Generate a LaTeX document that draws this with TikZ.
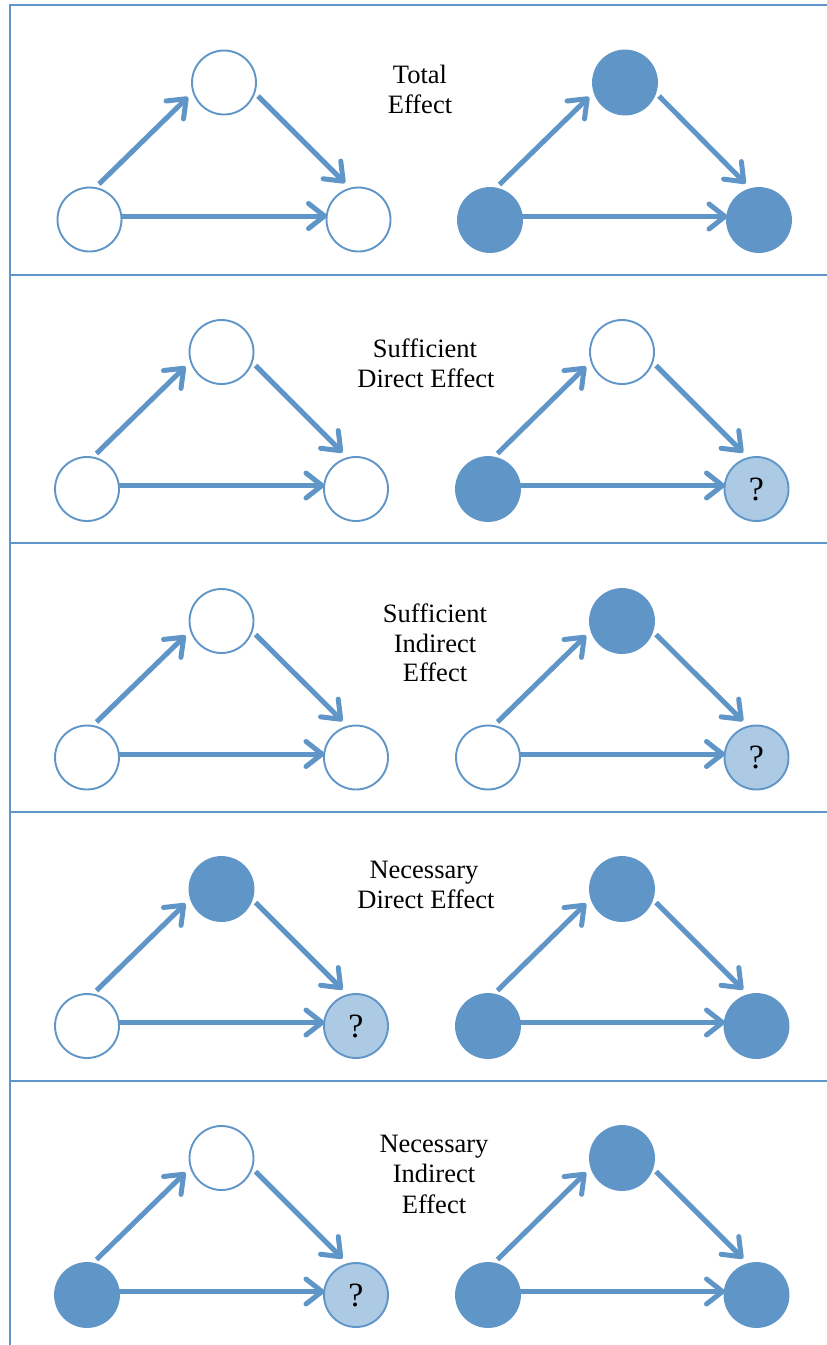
\documentclass[tikz,border=0pt]{standalone}
\usepackage{fontspec}
\setmainfont{Liberation Serif}
\usetikzlibrary{arrows.meta}
\definecolor{mblue}{RGB}{96,149,200}
\definecolor{lblue}{RGB}{173,202,229}
\newcommand{\triad}[8]{%
  \node[#5] (#1bl) at #2 {};
  \node[#6] (#1t) at #3 {};
  \node[#7] (#1br) at #4 {#8};
  \draw[arr] ([shift={(9.5,-35.5)}]#1bl.center) -- ([shift={(-36,14.5)}]#1t.center);
  \draw[arr] ([shift={(34,13.5)}]#1t.center) -- ([shift={(-13.5,-36.5)}]#1br.center);
  \draw[arr] ([shift={(32,-3.5)}]#1bl.center) -- ([shift={(-31.5,-3.5)}]#1br.center);
}
\begin{document}
\begin{tikzpicture}[x=1pt,y=-1pt,
  basec/.style={circle, line width=1.9pt, draw=mblue, minimum size=64pt, inner sep=0pt},
  emptyc/.style={basec, fill=white},
  fullc/.style={basec, fill=mblue},
  qc/.style={basec, fill=lblue, font=\fontsize{34}{34}\selectfont},
  arr/.style={draw=mblue, line width=5pt, -{Straight Barb[length=16pt,width=25pt,round]}},
  frame/.style={draw=mblue, line width=2pt},
  lbl/.style={font=\fontsize{26.5}{30}\selectfont, anchor=base, inner sep=0pt}]
\useasboundingbox (0,0) rectangle (827,1345);
% frame
\coordinate (ftl) at (10,5);
\coordinate (ftr) at (827,5);
\coordinate (fbl) at (10,1345);
\draw[frame] (ftr) -- (ftl) -- (fbl);
\foreach \yy/\nm in {274.5/d1, 543/d2, 812/d3, 1081/d4} {
  \coordinate (\nm l) at (10,\yy);
  \coordinate (\nm r) at (827,\yy);
  \draw[frame] (\nm l) -- (\nm r);
}
% panel 1: Total Effect
\triad{aL}{(89.5,219.5)}{(224,82.5)}{(358.5,219.5)}{emptyc}{emptyc}{emptyc}{}
\triad{aR}{(490,220)}{(625,82.5)}{(759,220)}{fullc}{fullc}{fullc}{}
\node[lbl] (la1) at (420,83) {Total};
\node[lbl] (la2) at (420,113) {Effect};
% panel 2: Sufficient Direct Effect
\triad{bL}{(87,489)}{(221.5,352)}{(356,489)}{emptyc}{emptyc}{emptyc}{}
\triad{bR}{(488,489)}{(622,352)}{(756.5,489)}{fullc}{emptyc}{qc}{?}
\node[lbl] (lb1) at (425,357) {Sufficient};
\node[lbl] (lb2) at (426,387) {Direct Effect};
% panel 3: Sufficient Indirect Effect
\triad{cL}{(87,757.5)}{(221.5,621)}{(356,757.5)}{emptyc}{emptyc}{emptyc}{}
\triad{cR}{(488,757.5)}{(622,621)}{(756.5,757.5)}{emptyc}{fullc}{qc}{?}
\node[lbl] (lc1) at (435,622) {Sufficient};
\node[lbl] (lc2) at (435,652) {Indirect};
\node[lbl] (lc3) at (435,681) {Effect};
% panel 4: Necessary Direct Effect
\triad{dL}{(87,1026)}{(221.5,889)}{(356,1026)}{emptyc}{fullc}{qc}{?}
\triad{dR}{(488,1026)}{(622,889)}{(756.5,1026)}{fullc}{fullc}{fullc}{}
\node[lbl] (ld1) at (424,878) {Necessary};
\node[lbl] (ld2) at (426,908) {Direct Effect};
% panel 5: Necessary Indirect Effect
\triad{eL}{(87,1295)}{(221.5,1158)}{(356,1295)}{fullc}{emptyc}{qc}{?}
\triad{eR}{(488,1295)}{(622,1158)}{(756.5,1295)}{fullc}{fullc}{fullc}{}
\node[lbl] (le1) at (434,1152) {Necessary};
\node[lbl] (le2) at (434,1182) {Indirect};
\node[lbl] (le3) at (434,1213) {Effect};
\end{tikzpicture}
\end{document}
